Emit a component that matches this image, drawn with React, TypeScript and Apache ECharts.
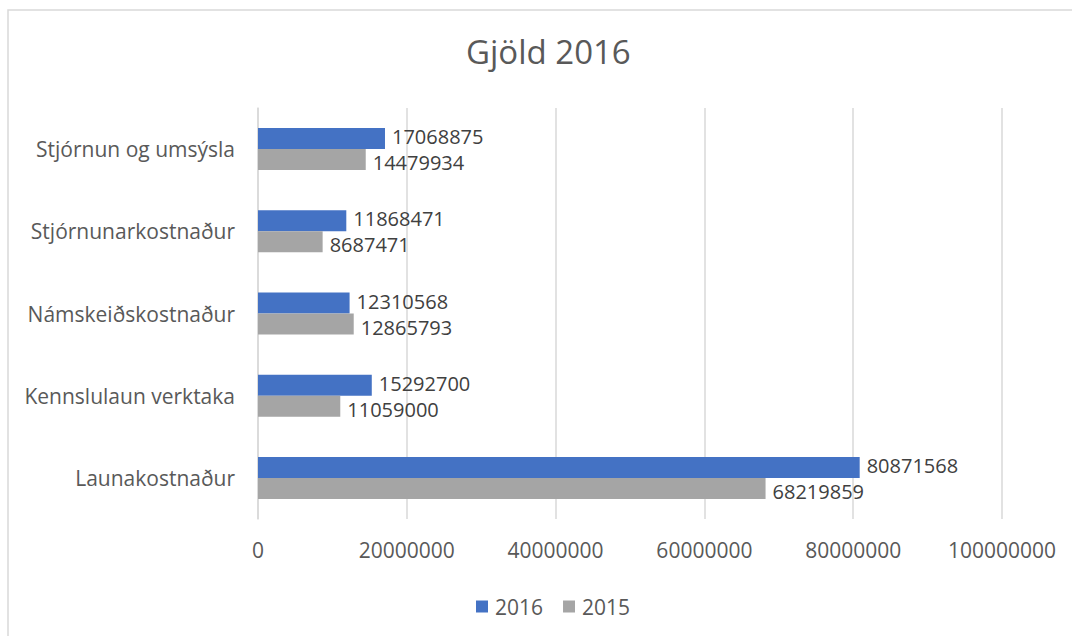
import React, { useEffect, useRef } from "react";
import * as echarts from "echarts";

const categories = [
  "Launakostnaður",
  "Kennslulaun verktaka",
  "Námskeiðskostnaður",
  "Stjórnunarkostnaður",
  "Stjórnun og umsýsla",
];
const values2016 = [80871568, 15292700, 12310568, 11868471, 17068875];
const values2015 = [68219859, 11059000, 12865793, 8687471, 14479934];
const seriesNames = ["2016", "2015"];
const xTicks = { min: 0, max: 100000000, interval: 20000000 };

const FONT = "'Open Sans', sans-serif";

export default function App() {
  const ref = useRef<HTMLDivElement>(null);
  useEffect(() => {
    document.body.style.margin = "0";
    const chart = echarts.init(ref.current!, null, { renderer: "svg" });
    const labelStyle = (dy: number) => ({
      show: true,
      position: "right" as const,
      distance: 7,
      offset: [0, dy],
      color: "#404040",
      fontSize: 20,
      lineHeight: 20,
      fontFamily: FONT,
      formatter: (p: any) => String(p.value),
    });
    chart.setOption({
      animation: false,
      backgroundColor: "#ffffff",
      textStyle: { fontFamily: FONT },
      graphic: [
        {
          type: "rect",
          shape: { x: 8, y: 10, width: 1080, height: 640 },
          style: { fill: "none", stroke: "#d9d9d9", lineWidth: 1.5 },
          silent: true,
        },
      ],
      title: {
        text: "Gjöld 2016",
        left: 461,
        top: 30,
        textStyle: { color: "#595959", fontSize: 33, fontWeight: "normal", fontFamily: FONT },
      },
      legend: {
        data: seriesNames,
        left: 471,
        top: 591,
        itemWidth: 12,
        itemHeight: 12,
        itemGap: 20,
        icon: "rect",
        textStyle: { color: "#595959", fontSize: 21, fontFamily: FONT, padding: [0, 0, 0, 2] },
      },
      grid: { left: 258, right: 70, top: 108, bottom: 117 },
      xAxis: {
        type: "value",
        min: xTicks.min,
        max: xTicks.max,
        interval: xTicks.interval,
        axisLine: { show: false },
        axisTick: { show: false },
        splitLine: { lineStyle: { color: "#d9d9d9", width: 1.5 } },
        axisLabel: {
          color: "#595959",
          fontSize: 21,
          fontFamily: FONT,
          margin: 20,
          formatter: (v: number) => String(v),
        },
      },
      yAxis: {
        type: "category",
        data: categories,
        axisLine: { show: true, lineStyle: { color: "#d9d9d9", width: 1.5 } },
        axisTick: { show: false },
        axisLabel: { color: "#595959", fontSize: 21, fontFamily: FONT, margin: 23 },
      },
      series: [
        {
          name: seriesNames[0],
          type: "bar",
          data: values2016,
          itemStyle: { color: "#4472c4" },
          barWidth: 21,
          barGap: "0%",
          label: labelStyle(-2),
        },
        {
          name: seriesNames[1],
          type: "bar",
          data: values2015,
          itemStyle: { color: "#a5a5a5" },
          barWidth: 21,
          barGap: "0%",
          label: labelStyle(3),
        },
      ],
    });
    return () => chart.dispose();
  }, []);
  return (
    <div
      ref={ref}
      style={{ position: "absolute", left: 0, top: 0, width: 1072, height: 636 }}
    />
  );
}
